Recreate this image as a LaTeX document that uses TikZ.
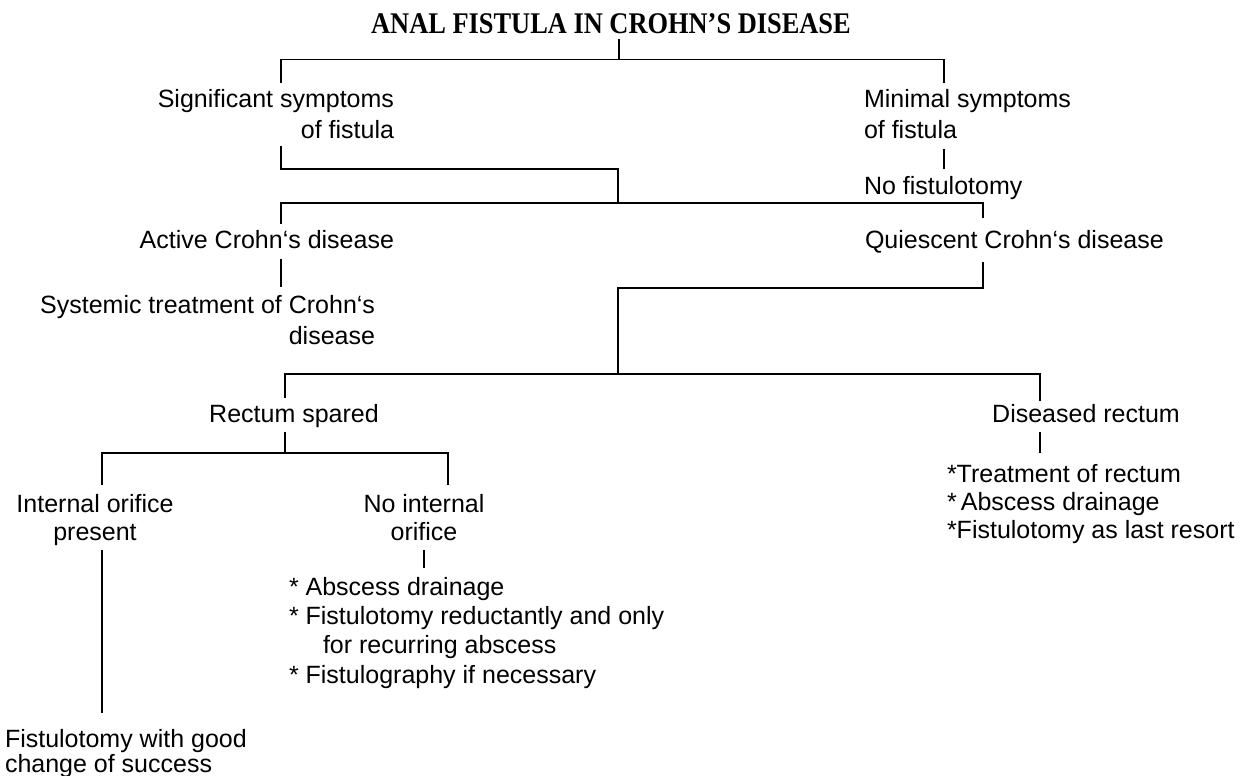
\documentclass[tikz,border=0pt]{standalone}
\usepackage{fontspec}
\setmainfont{Liberation Sans}
\newfontfamily\titlefont{Liberation Serif}[FakeStretch=0.88]
\newcommand{\fs}[1]{\fontsize{12.5pt}{#1}\selectfont}
\newcommand{\tstrut}{\rule{0pt}{10pt}}
\begin{document}
\begin{tikzpicture}[x=0.5pt,y=-0.5pt,
  lbl/.style={inner sep=0pt, outer sep=0pt, font=\fs{15.5pt}},
  conn/.style={line width=0.9pt, line cap=butt}]
\useasboundingbox (0,0) rectangle (1243,776);
\fill[white] (0,0) rectangle (1243,776);

% text nodes
\node[inner sep=0pt, anchor=base, font=\titlefont\bfseries\fontsize{15pt}{18pt}\selectfont] (title) at (611,33) {ANAL FISTULA IN CROHN’S DISEASE};
\node[lbl, anchor=north east, align=right] (sig) at (394,87) {\tstrut Significant symptoms\\of fistula};
\node[lbl, anchor=north west, align=left] (mini) at (864,87) {\tstrut Minimal symptoms\\of fistula};
\node[lbl, anchor=north west] (nofist) at (864,174) {\tstrut No fistulotomy};
\node[lbl, anchor=north east] (active) at (394,228) {\tstrut Active Crohn`s disease};
\node[lbl, anchor=north west] (quies) at (865,228) {\tstrut Quiescent Crohn`s disease};
\node[lbl, anchor=north east, align=right] (sys) at (375,293) {\tstrut Systemic treatment of Crohn`s\\disease};
\node[lbl, anchor=north] (spared) at (294,402) {\tstrut Rectum spared};
\node[lbl, anchor=north] (disrect) at (1086,402) {\tstrut Diseased rectum};
\node[lbl, anchor=north, align=center, font=\fs{14pt}] (intor) at (95,492) {\tstrut Internal orifice\\present};
\node[lbl, anchor=north, align=center, font=\fs{14pt}] (noint) at (424,492) {\tstrut No internal\\orifice};
\node[lbl, anchor=north west, align=left, font=\fs{12.5pt}] (good) at (5,727) {\tstrut Fistulotomy with good\\change of success};
\node[lbl, anchor=north west, align=left, font=\fs{14.7pt}] (bulL) at (289,575) {\tstrut * Abscess drainage\\* Fistulotomy reductantly and only\\\hspace*{17pt}for recurring abscess\\* Fistulography if necessary};
\node[lbl, anchor=north west, align=left, font=\fs{14pt}] (bulR) at (947,462) {\tstrut *Treatment of rectum\\*\,Abscess drainage\\*Fistulotomy as last resort};

% junctions
\coordinate (j1) at (619,59.5);
\coordinate (j1l) at (281,59.5);
\coordinate (j1r) at (944,59.5);
\coordinate (j2) at (618,169);
\coordinate (j3) at (618,203);
\coordinate (j3l) at (281,203);
\coordinate (j3r) at (983,203);
\coordinate (j4) at (618,288);
\coordinate (j5) at (618,374);
\coordinate (j5l) at (285,374);
\coordinate (j5r) at (1040,374);
\coordinate (j6l) at (102,453);
\coordinate (j6r) at (448,453);

% connectors
\draw[conn, shorten <=2.5pt] (title.south -| j1) -- (j1);
\draw[conn, shorten <=2pt, shorten >=2pt] (sig.north -| j1l) -- (j1l) -- (j1r) -- (mini.north -| j1r);
\draw[conn, shorten <=4pt] (sig.south -| j1l) |- (j2) -- (j3);
\draw[conn, shorten <=5.5pt, shorten >=2.5pt] (mini.south -| j1r) -- (nofist.north -| j1r);
\draw[conn, shorten <=2pt, shorten >=5pt] (active.north -| j3l) -- (j3l) -- (j3r) -- (quies.north -| j3r);
\draw[conn, shorten <=5.5pt, shorten >=3pt] (active.south -| j3l) -- (sys.north -| j3l);
\draw[conn, shorten <=4.5pt] (quies.south -| j3r) |- (j4) -- (j5);
\draw[conn, shorten <=2pt, shorten >=0.5pt] (spared.north -| j5l) -- (j5l) -- (j5r) -- (disrect.north -| j5r);
\draw[conn, shorten <=2.5pt] (spared.south -| j5l) -- (j5l |- j6l);
\draw[conn, shorten <=3.5pt, shorten >=3.5pt] (intor.north -| j6l) -- (j6l) -- (j6r) -- (noint.north -| j6r);
\draw[conn, shorten <=2.5pt, shorten >=7pt] (intor.south -| j6l) -- (good.north -| j6l);
\draw[conn, shorten <=5pt, shorten >=3.5pt] (noint.south) -- (bulL.north -| noint.south);
\draw[conn, shorten <=5pt, shorten >=4.5pt] (disrect.south -| j5r) -- (bulR.north -| j5r);
\end{tikzpicture}
\end{document}
